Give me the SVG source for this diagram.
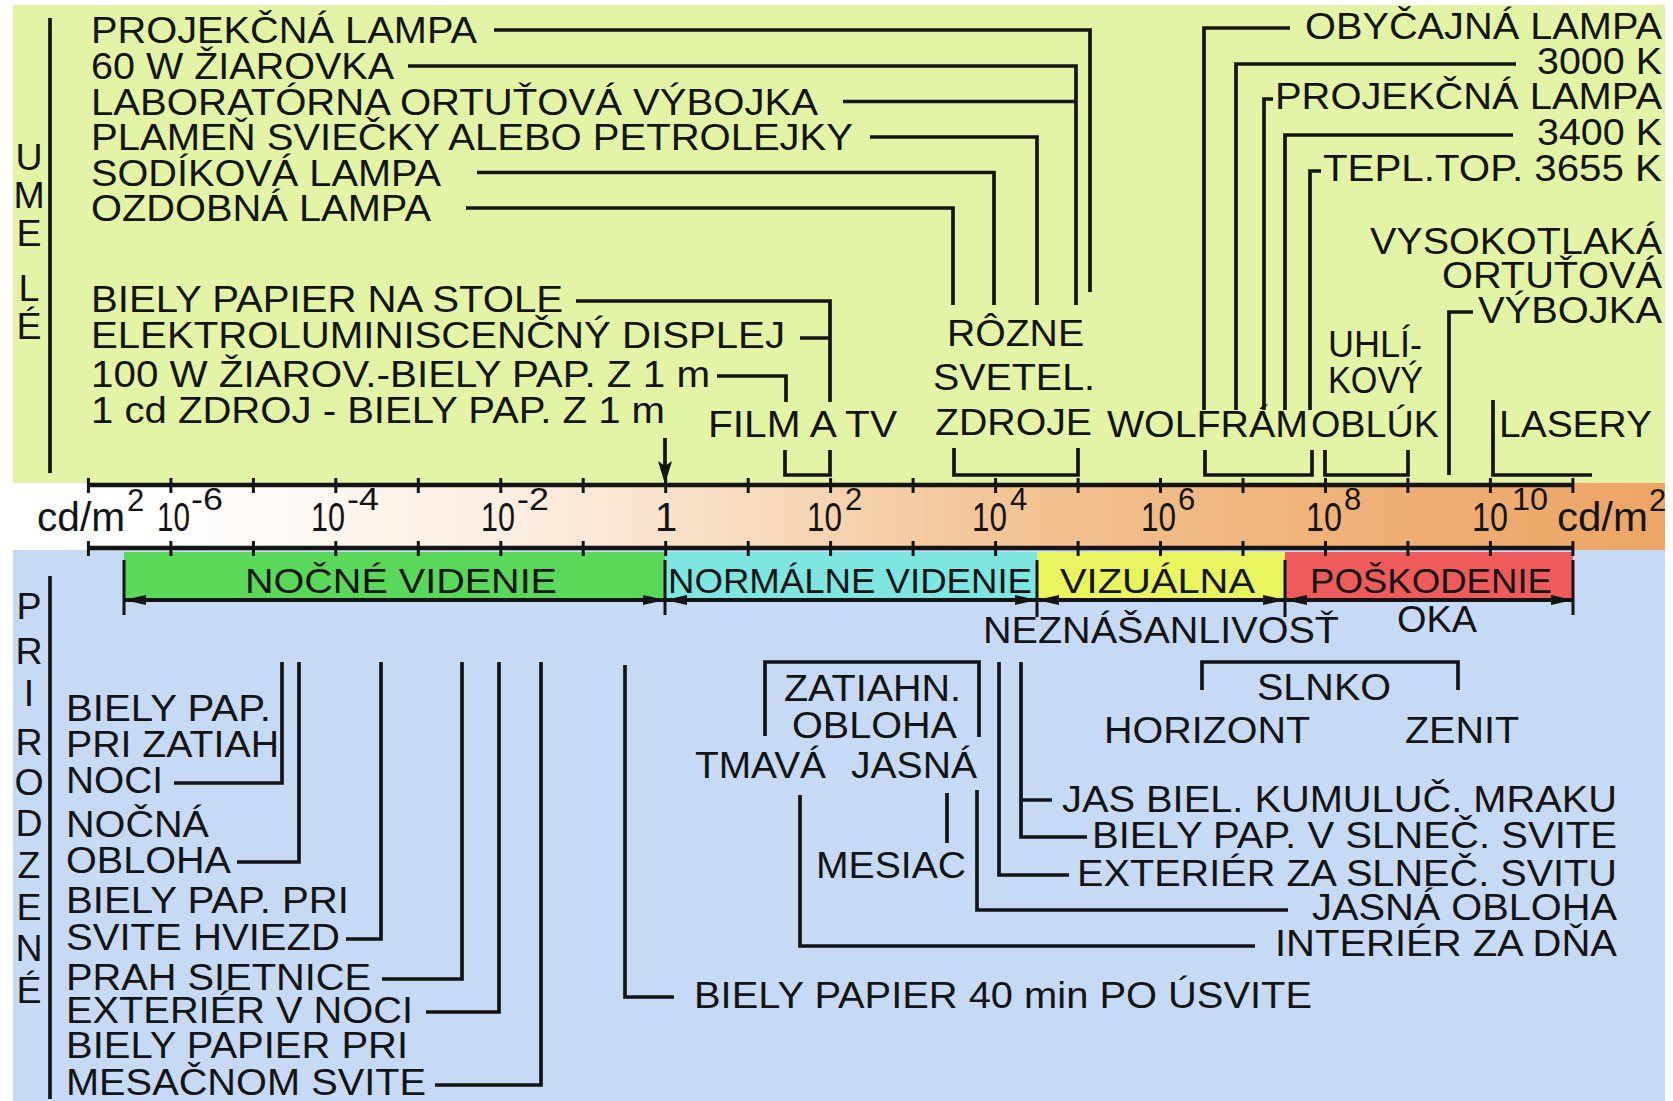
<svg xmlns="http://www.w3.org/2000/svg" width="1673" height="1101" viewBox="0 0 1673 1101">
<defs>
<style>
.t{font-family:"Liberation Sans",Arial,Helvetica,sans-serif;font-size:37.5px;fill:#141414}
.b{font-size:35px}
.a{font-size:40px}
.s{font-size:31px}
.ln{stroke:#141414;stroke-width:3.7;fill:none}
.ax{stroke:#141414;stroke-width:4.5;fill:none}
.tk{stroke:#141414;stroke-width:3;fill:none}
.ar{stroke:#141414;stroke-width:4;fill:none;marker-start:url(#ah);marker-end:url(#ah)}
</style>
<linearGradient id="gb" x1="13" y1="0" x2="1665" y2="0" gradientUnits="userSpaceOnUse">
<stop offset="0" stop-color="#ffffff"/>
<stop offset="0.09" stop-color="#ffffff"/>
<stop offset="0.295" stop-color="#fcefe2"/>
<stop offset="0.395" stop-color="#f9e2cb"/>
<stop offset="0.594" stop-color="#f3c597"/>
<stop offset="0.794" stop-color="#efb279"/>
<stop offset="1" stop-color="#eca566"/>
</linearGradient>
<marker id="ah" viewBox="0 0 22 10" refX="22" refY="5" markerWidth="22" markerHeight="10" orient="auto-start-reverse" markerUnits="userSpaceOnUse">
<path d="M0,0 L22,5 L0,10 z" fill="#141414"/>
</marker>
</defs>
<rect x="0" y="0" width="1673" height="1101" fill="#ffffff"/>
<g id="background">
<rect x="13" y="5" width="1652" height="478" fill="#e3f4a6"/>
<rect x="13" y="483" width="1652" height="67" fill="url(#gb)"/>
<rect x="13" y="550" width="1652" height="551" fill="#c6daf5"/>
</g>
<g id="vision-bands">
<rect x="124" y="552" width="541" height="47" fill="#5ad85a"/>
<rect x="665" y="552" width="372" height="47" fill="#7de6e0"/>
<rect x="1037" y="552" width="248" height="47" fill="#e9f55f"/>
<rect x="1285" y="552" width="288" height="47" fill="#ef5b5b"/>
</g>
<g id="axis">
<path class="ax" d="M88,485 H1573 M88,548 H1573"/>
<path class="tk" d="M88.4,478V493M170.9,478V493M253.4,478V493M335.8,478V493M418.3,478V493M500.8,478V493M583.2,478V493M665.7,478V493M748.2,478V493M830.6,478V493M913.1,478V493M995.6,478V493M1078.1,478V493M1160.5,478V493M1243,478V493M1325.5,478V493M1407.9,478V493M1490.4,478V493M1572.9,478V493
M88.4,541V556M170.9,541V556M253.4,541V556M335.8,541V556M418.3,541V556M500.8,541V556M583.2,541V556M665.7,541V556M748.2,541V556M830.6,541V556M913.1,541V556M995.6,541V556M1078.1,541V556M1160.5,541V556M1243,541V556M1325.5,541V556M1407.9,541V556M1490.4,541V556M1572.9,541V556"/>
<text class="t a"><tspan x="37" y="531" textLength="88" lengthAdjust="spacingAndGlyphs">cd/m</tspan><tspan class="s" x="127" y="511">2</tspan></text>
<text class="t a"><tspan x="157" y="531" textLength="33" lengthAdjust="spacingAndGlyphs">10</tspan><tspan class="s" x="191" y="510" textLength="32" lengthAdjust="spacingAndGlyphs">-6</tspan></text>
<text class="t a"><tspan x="311" y="531" textLength="34" lengthAdjust="spacingAndGlyphs">10</tspan><tspan class="s" x="347" y="510" textLength="32" lengthAdjust="spacingAndGlyphs">-4</tspan></text>
<text class="t a"><tspan x="481" y="531" textLength="34" lengthAdjust="spacingAndGlyphs">10</tspan><tspan class="s" x="517" y="510" textLength="32" lengthAdjust="spacingAndGlyphs">-2</tspan></text>
<text class="t a" x="666" y="531" text-anchor="middle">1</text>
<text class="t a"><tspan x="807" y="531" textLength="35" lengthAdjust="spacingAndGlyphs">10</tspan><tspan class="s" x="845" y="510">2</tspan></text>
<text class="t a"><tspan x="972" y="531" textLength="35" lengthAdjust="spacingAndGlyphs">10</tspan><tspan class="s" x="1010" y="510">4</tspan></text>
<text class="t a"><tspan x="1141" y="531" textLength="35" lengthAdjust="spacingAndGlyphs">10</tspan><tspan class="s" x="1178" y="510">6</tspan></text>
<text class="t a"><tspan x="1306" y="531" textLength="36" lengthAdjust="spacingAndGlyphs">10</tspan><tspan class="s" x="1344" y="510">8</tspan></text>
<text class="t a"><tspan x="1472" y="531" textLength="36" lengthAdjust="spacingAndGlyphs">10</tspan><tspan class="s" x="1512" y="510" textLength="36" lengthAdjust="spacingAndGlyphs">10</tspan></text>
<text class="t a"><tspan x="1557" y="531" textLength="91" lengthAdjust="spacingAndGlyphs">cd/m</tspan><tspan class="s" x="1649" y="511">2</tspan></text>
</g>
<g id="connectors">
<path class="ln" d="M50,18 V473 M50,576 V1099"/>
<path class="ln" d="M494,30 H1090 V292 M408,66 H1076 V305 M843,101.5 H1076 M870,137 H1037 V305 M477,172.5 H994 V305 M466,208 H953 V305"/>
<path class="ln" d="M576,301 H830 V402 M800,338 H830 M717,376 H786 V402 M785,450 V475 H830 V450 M954,448 V475 H1078 V448"/>
<path class="ln" d="M1290,28 H1204 V410 M1516,64 H1236 V410 M1273,99 H1264 V410 M1513,135 H1285 V410 M1321,171 H1310 V410 M1473,312 H1449 V475"/>
<path class="ln" d="M1205,450 V475 H1312 V450 M1325,450 V475 H1408 V450 M1493,400 V475 H1592"/>
<path class="ln" d="M665,438 V466"/>
<path d="M658,461 L665,466 L672,461 L665,484 z" fill="#141414"/>
<path class="tk" d="M124,560 V615 M665,560 V615 M1037,560 V617 M1285,560 V617 M1573,560 V615"/>
<path class="ar" d="M124,600 H665"/>
<path class="ar" d="M665,600 H1037"/>
<path class="ar" d="M1037,600 H1285"/>
<path class="ar" d="M1285,600 H1573"/>
<path class="ln" d="M282,662 V783 H174 M299,662 V862 H237 M381,662 V939 H346 M462,662 V979 H382 M499,662 V1012 H426 M541,662 V1085 H435 M625,665 V997 H674"/>
<path class="ln" d="M765,736 V662 H979 V737 M800,795 V946 H1255 M947,793 V843 M977,790 V910 H1288 M999,662 V875 H1069 M1021,662 V837 H1087 M1021,800 H1052 M1202,690 V662 H1458 V690"/>
</g>
<g id="umele">
<text class="t" x="29" y="170" text-anchor="middle">U</text>
<text class="t" x="29" y="208" text-anchor="middle">M</text>
<text class="t" x="29" y="246" text-anchor="middle">E</text>
<text class="t" x="29" y="301" text-anchor="middle">L</text>
<text class="t" x="29" y="339" text-anchor="middle">É</text>
</g>
<g id="prirodzene">
<text class="t" x="29" y="619" text-anchor="middle">P</text>
<text class="t" x="29" y="664" text-anchor="middle">R</text>
<text class="t" x="29" y="706" text-anchor="middle">I</text>
<text class="t" x="29" y="755" text-anchor="middle">R</text>
<text class="t" x="29" y="795" text-anchor="middle">O</text>
<text class="t" x="29" y="836" text-anchor="middle">D</text>
<text class="t" x="29" y="878" text-anchor="middle">Z</text>
<text class="t" x="29" y="920" text-anchor="middle">E</text>
<text class="t" x="29" y="961" text-anchor="middle">N</text>
<text class="t" x="29" y="1003" text-anchor="middle">É</text>
</g>
<g id="artificial-left">
<text class="t" x="91" y="43" textLength="386" lengthAdjust="spacingAndGlyphs">PROJEKČNÁ LAMPA</text>
<text class="t" x="91" y="79" textLength="303" lengthAdjust="spacingAndGlyphs">60 W ŽIAROVKA</text>
<text class="t" x="91" y="115" textLength="727" lengthAdjust="spacingAndGlyphs">LABORATÓRNA ORTUŤOVÁ VÝBOJKA</text>
<text class="t" x="91" y="150" textLength="762" lengthAdjust="spacingAndGlyphs">PLAMEŇ SVIEČKY ALEBO PETROLEJKY</text>
<text class="t" x="91" y="186" textLength="350" lengthAdjust="spacingAndGlyphs">SODÍKOVÁ LAMPA</text>
<text class="t" x="91" y="221" textLength="340" lengthAdjust="spacingAndGlyphs">OZDOBNÁ LAMPA</text>
<text class="t" x="91" y="312" textLength="472" lengthAdjust="spacingAndGlyphs">BIELY PAPIER NA STOLE</text>
<text class="t" x="91" y="348" textLength="694" lengthAdjust="spacingAndGlyphs">ELEKTROLUMINISCENČNÝ DISPLEJ</text>
<text class="t" x="91" y="387" textLength="619" lengthAdjust="spacingAndGlyphs">100 W ŽIAROV.-BIELY PAP. Z 1 m</text>
<text class="t" x="91" y="423" textLength="574" lengthAdjust="spacingAndGlyphs">1 cd ZDROJ - BIELY PAP. Z 1 m</text>
<text class="t" x="708" y="437" textLength="189" lengthAdjust="spacingAndGlyphs">FILM A TV</text>
<text class="t" x="947" y="346" textLength="137" lengthAdjust="spacingAndGlyphs">RÔZNE</text>
<text class="t" x="933" y="390" textLength="162" lengthAdjust="spacingAndGlyphs">SVETEL.</text>
<text class="t" x="935" y="435" textLength="157" lengthAdjust="spacingAndGlyphs">ZDROJE</text>
</g>
<g id="artificial-right">
<text class="t" x="1662" y="39" text-anchor="end" textLength="357" lengthAdjust="spacingAndGlyphs">OBYČAJNÁ LAMPA</text>
<text class="t" x="1662" y="74" text-anchor="end" textLength="125" lengthAdjust="spacingAndGlyphs">3000 K</text>
<text class="t" x="1662" y="109" text-anchor="end" textLength="387" lengthAdjust="spacingAndGlyphs">PROJEKČNÁ LAMPA</text>
<text class="t" x="1662" y="145" text-anchor="end" textLength="125" lengthAdjust="spacingAndGlyphs">3400 K</text>
<text class="t" x="1662" y="181" text-anchor="end" textLength="339" lengthAdjust="spacingAndGlyphs">TEPL.TOP. 3655 K</text>
<text class="t" x="1662" y="254" text-anchor="end" textLength="292" lengthAdjust="spacingAndGlyphs">VYSOKOTLAKÁ</text>
<text class="t" x="1662" y="288" text-anchor="end" textLength="220" lengthAdjust="spacingAndGlyphs">ORTUŤOVÁ</text>
<text class="t" x="1662" y="323" text-anchor="end" textLength="184" lengthAdjust="spacingAndGlyphs">VÝBOJKA</text>
<text class="t" x="1328" y="357" textLength="94" lengthAdjust="spacingAndGlyphs">UHLÍ-</text>
<text class="t" x="1328" y="393" textLength="95" lengthAdjust="spacingAndGlyphs">KOVÝ</text>
<text class="t" x="1107" y="437" textLength="201" lengthAdjust="spacingAndGlyphs">WOLFRÁM</text>
<text class="t" x="1311" y="437" textLength="128" lengthAdjust="spacingAndGlyphs">OBLÚK</text>
<text class="t" x="1499" y="437" textLength="153" lengthAdjust="spacingAndGlyphs">LASERY</text>
</g>
<g id="vision-labels">
<text class="t b" x="245" y="593" textLength="312" lengthAdjust="spacingAndGlyphs">NOČNÉ VIDENIE</text>
<text class="t b" x="668" y="593" textLength="364" lengthAdjust="spacingAndGlyphs">NORMÁLNE VIDENIE</text>
<text class="t b" x="1060" y="593" textLength="195" lengthAdjust="spacingAndGlyphs">VIZUÁLNA</text>
<text class="t b" x="1310" y="593" textLength="242" lengthAdjust="spacingAndGlyphs">POŠKODENIE</text>
<text class="t" x="983" y="643" textLength="356" lengthAdjust="spacingAndGlyphs">NEZNÁŠANLIVOSŤ</text>
<text class="t" x="1397" y="632" textLength="80" lengthAdjust="spacingAndGlyphs">OKA</text>
</g>
<g id="natural-left">
<text class="t" x="66" y="721" textLength="205" lengthAdjust="spacingAndGlyphs">BIELY PAP.</text>
<text class="t" x="66" y="757" textLength="213" lengthAdjust="spacingAndGlyphs">PRI ZATIAH</text>
<text class="t" x="66" y="793" textLength="97" lengthAdjust="spacingAndGlyphs">NOCI</text>
<text class="t" x="66" y="837" textLength="143" lengthAdjust="spacingAndGlyphs">NOČNÁ</text>
<text class="t" x="66" y="873" textLength="165" lengthAdjust="spacingAndGlyphs">OBLOHA</text>
<text class="t" x="66" y="913" textLength="283" lengthAdjust="spacingAndGlyphs">BIELY PAP. PRI</text>
<text class="t" x="66" y="950" textLength="274" lengthAdjust="spacingAndGlyphs">SVITE HVIEZD</text>
<text class="t" x="66" y="990" textLength="305" lengthAdjust="spacingAndGlyphs">PRAH SIETNICE</text>
<text class="t" x="66" y="1023" textLength="347" lengthAdjust="spacingAndGlyphs">EXTERIÉR V NOCI</text>
<text class="t" x="66" y="1058" textLength="342" lengthAdjust="spacingAndGlyphs">BIELY PAPIER PRI</text>
<text class="t" x="66" y="1095" textLength="360" lengthAdjust="spacingAndGlyphs">MESAČNOM SVITE</text>
<text class="t" x="694" y="1008" textLength="618" lengthAdjust="spacingAndGlyphs">BIELY PAPIER 40 min PO ÚSVITE</text>
</g>
<g id="natural-right">
<text class="t" x="784" y="701" textLength="177" lengthAdjust="spacingAndGlyphs">ZATIAHN.</text>
<text class="t" x="792" y="738" textLength="165" lengthAdjust="spacingAndGlyphs">OBLOHA</text>
<text class="t" x="695" y="778" textLength="131" lengthAdjust="spacingAndGlyphs">TMAVÁ</text>
<text class="t" x="851" y="778" textLength="126" lengthAdjust="spacingAndGlyphs">JASNÁ</text>
<text class="t" x="816" y="878" textLength="150" lengthAdjust="spacingAndGlyphs">MESIAC</text>
<text class="t" x="1617" y="812" text-anchor="end" textLength="555" lengthAdjust="spacingAndGlyphs">JAS BIEL. KUMULUČ. MRAKU</text>
<text class="t" x="1617" y="848" text-anchor="end" textLength="525" lengthAdjust="spacingAndGlyphs">BIELY PAP. V SLNEČ. SVITE</text>
<text class="t" x="1617" y="886" text-anchor="end" textLength="540" lengthAdjust="spacingAndGlyphs">EXTERIÉR ZA SLNEČ. SVITU</text>
<text class="t" x="1617" y="920" text-anchor="end" textLength="305" lengthAdjust="spacingAndGlyphs">JASNÁ OBLOHA</text>
<text class="t" x="1617" y="956" text-anchor="end" textLength="342" lengthAdjust="spacingAndGlyphs">INTERIÉR ZA DŇA</text>
<text class="t" x="1257" y="700" textLength="134" lengthAdjust="spacingAndGlyphs">SLNKO</text>
<text class="t" x="1104" y="743" textLength="206" lengthAdjust="spacingAndGlyphs">HORIZONT</text>
<text class="t" x="1405" y="743" textLength="114" lengthAdjust="spacingAndGlyphs">ZENIT</text>
</g>
</svg>
